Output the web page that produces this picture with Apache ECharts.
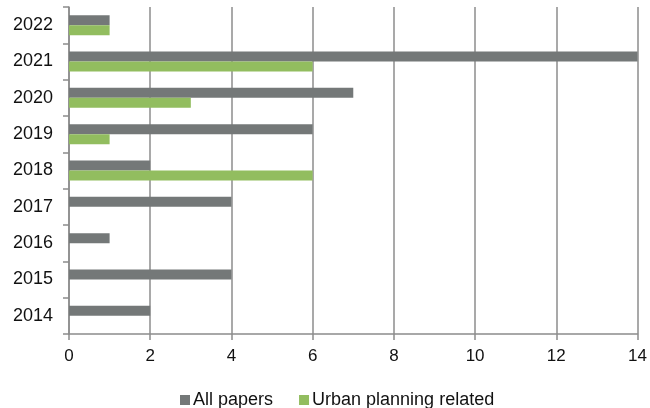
<!DOCTYPE html>
<html>
<head>
<meta charset="utf-8">
<script src="https://cdn.jsdelivr.net/npm/echarts@6/dist/echarts.min.js"></script>
<style>
  html, body { margin: 0; padding: 0; background: #fff; }
  #chart { width: 650px; height: 408px; }
</style>
</head>
<body>
<div id="chart"></div>
<script>
// Publications per year
const years = ['2014', '2015', '2016', '2017', '2018', '2019', '2020', '2021', '2022'];
const allPapers = [2, 4, 1, 4, 2, 6, 7, 14, 1];
const urbanPlanning = [0, 0, 0, 0, 6, 1, 3, 6, 1];
const xTicks = [0, 2, 4, 6, 8, 10, 12, 14];

const FONT = '"Liberation Sans", Arial, sans-serif';
const chart = echarts.init(document.getElementById('chart'), null, { renderer: 'canvas' });

chart.setOption({
  animation: false,
  backgroundColor: '#ffffff',
  grid: { left: 69, right: 11, top: 7, bottom: 74, containLabel: false },
  legend: {
    top: 386,
    left: 175,
    itemWidth: 10,
    itemHeight: 10,
    itemGap: 26,
    icon: 'rect',
    textStyle: { fontFamily: FONT, fontSize: 18, color: '#111', padding: [0, 0, 0, -2] },
    data: ['All papers', 'Urban planning related']
  },
  xAxis: {
    type: 'value',
    min: xTicks[0],
    max: xTicks[xTicks.length - 1],
    interval: 2,
    axisLine: { show: true, lineStyle: { color: '#8c8c8c', width: 1.5 } },
    axisTick: { show: true, length: 6, lineStyle: { color: '#8c8c8c', width: 1.5 } },
    axisLabel: { fontFamily: FONT, fontSize: 17, color: '#111', margin: 14 },
    splitLine: { show: true, lineStyle: { color: '#8c8c8c', width: 1.5 } }
  },
  yAxis: {
    type: 'category',
    data: years,
    axisLine: { show: true, lineStyle: { color: '#8c8c8c', width: 1.5 } },
    axisTick: { show: true, length: 6, lineStyle: { color: '#8c8c8c', width: 1.5 } },
    axisLabel: { fontFamily: FONT, fontSize: 18, color: '#111', margin: 16 },
    splitLine: { show: false }
  },
  series: [
    {
      name: 'All papers',
      type: 'bar',
      data: allPapers,
      barWidth: 10,
      barGap: '0%',
      itemStyle: { color: '#747878' }
    },
    {
      name: 'Urban planning related',
      type: 'bar',
      data: urbanPlanning,
      barWidth: 10,
      barGap: '0%',
      itemStyle: { color: '#92bd5f' }
    }
  ]
});
</script>
</body>
</html>
